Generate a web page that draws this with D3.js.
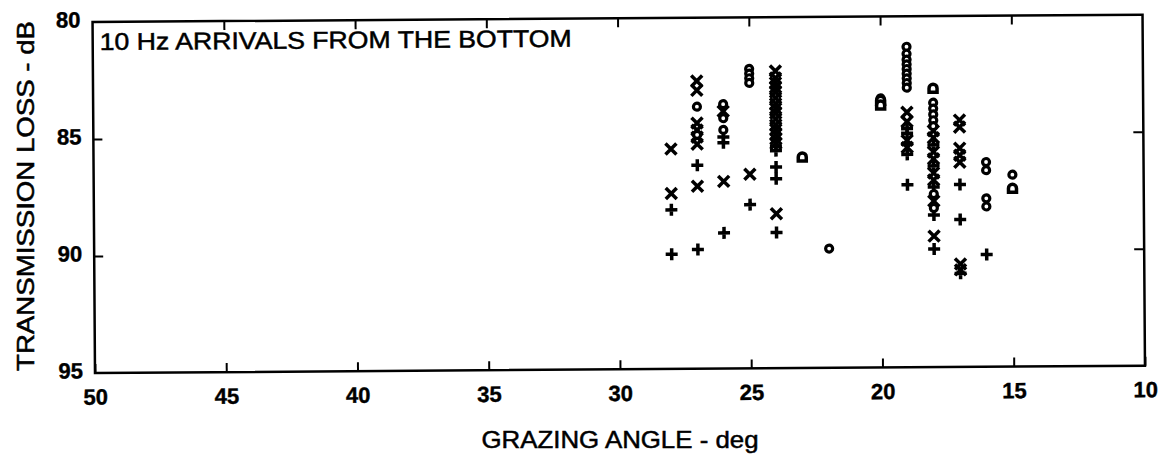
<!DOCTYPE html>
<html>
<head>
<meta charset="utf-8">
<script src="https://cdn.jsdelivr.net/npm/d3@7"></script>
<style>
  body { margin: 0; background: #fff; }
  text { font-family: "Liberation Sans", Arial, Helvetica, sans-serif; fill: #000; }
</style>
</head>
<body>
<svg id="chart" width="1161" height="458"></svg>
<script>
// Axis ticks
const xTicks = [50, 45, 40, 35, 30, 25, 20, 15, 10];
const yTicks = [80, 85, 90, 95];

// Arrivals, grouped by plotting symbol: grazing angle (deg) and transmission loss (dB)
const crossAngle = [28, 28, 27, 27, 27, 27, 27, 27, 27, 26, 26, 25,
  24, 24, 24, 24, 24, 24, 24, 24, 24, 24, 24, 24, 24, 24, 24, 24,
  19, 19, 19, 19, 18, 18, 18, 18, 18, 18, 18, 18, 17, 17, 17, 17, 17, 17, 17];
const crossLoss = [85.6, 87.5, 82.7, 83.1, 84.5, 84.8, 85.1, 85.4, 87.2, 84.0, 87.0, 86.7,
  82.3, 82.6, 82.8, 83.0, 83.2, 83.45, 83.7, 83.9, 84.1, 84.35, 84.6, 84.8, 85.0, 85.2, 85.4, 88.4,
  84.1, 84.5, 85.3, 85.6, 84.9, 85.2, 85.8, 86.1, 86.7, 87.0, 87.9, 89.4,
  84.45, 84.75, 85.65, 85.95, 86.25, 90.6, 90.85];

const plusAngle = [28, 28, 27, 27, 26, 26, 26, 25, 24, 24, 24, 24, 24,
  19, 19, 19, 19, 19, 18, 18, 18, 18, 18, 17, 17, 17, 16];
const plusLoss = [88.2, 90.1, 86.3, 89.9, 85.1, 85.35, 89.2, 88.0, 85.5, 85.7, 86.4, 86.9, 89.2,
  84.8, 85.0, 85.45, 85.9, 87.2, 85.5, 86.4, 87.3, 88.5, 89.95, 87.2, 88.7, 91.0, 90.2];

const circleAngle = [27, 27, 26, 26, 26, 25, 25, 25, 25, 22, 20,
  19, 19, 19, 19, 19, 19, 19, 19, 19, 18, 18, 18, 18, 18, 18, 18, 16, 16, 16, 16, 15];
const circleLoss = [83.8, 85.0, 83.7, 84.3, 84.8, 82.2, 82.4, 82.6, 82.8, 89.9, 83.5,
  81.3, 81.6, 81.85, 82.05, 82.25, 82.45, 82.65, 82.85, 83.05, 83.7, 83.95, 84.2, 84.45, 84.7, 87.6, 88.2,
  86.25, 86.6, 87.8, 88.15, 86.8];

const domeAngle = [23, 20, 20, 18, 15];
const domeLoss = [86.0, 83.6, 83.8, 83.1, 87.4];

const svg = d3.select("#chart");
const frameLeft = 95, frameRight = 1145, frameTop = 22, frameBottom = 373;

const x = d3.scaleLinear().domain([50, 10]).range([frameLeft, frameRight]);
const y = d3.scaleLinear().domain([80, 95]).range([frameTop, frameBottom]);

// The whole plot frame sits at a slight angle
const plot = svg.append("g").attr("transform", `rotate(-0.4, ${frameLeft}, ${frameBottom})`);

// Frame
plot.append("rect")
  .attr("x", frameLeft).attr("y", frameTop)
  .attr("width", frameRight - frameLeft).attr("height", frameBottom - frameTop)
  .attr("fill", "none").attr("stroke", "#000").attr("stroke-width", 2.5);

// Inward ticks on all four sides
const tickStyle = g => {
  g.select(".domain").remove();
  g.selectAll(".tick line").attr("stroke", "#000").attr("stroke-width", 2);
};
const labelStyle = sel => sel
  .attr("font-size", 22).attr("font-weight", "bold")
  .attr("stroke", "#000").attr("stroke-width", 0.4)
  .style("font-family", "'Liberation Sans', Arial, sans-serif").attr("fill", "#000");

plot.append("g")
  .attr("transform", `translate(0,${frameBottom})`)
  .call(d3.axisBottom(x).tickValues(xTicks).tickSizeInner(-9).tickSizeOuter(0).tickPadding(16))
  .call(tickStyle)
  .call(g => g.selectAll(".tick text").call(labelStyle));

plot.append("g")
  .attr("transform", `translate(0,${frameTop})`)
  .call(d3.axisTop(x).tickValues(xTicks.slice(1, -1)).tickSizeInner(-9).tickSizeOuter(0).tickFormat(""))
  .call(tickStyle);

plot.append("g")
  .attr("transform", `translate(${frameLeft},0)`)
  .call(d3.axisLeft(y).tickValues(yTicks).tickSizeInner(-9).tickSizeOuter(0).tickPadding(12))
  .call(tickStyle)
  .call(g => g.selectAll(".tick text").call(labelStyle).attr("dy", "0.22em"))
  .call(g => g.selectAll(".tick").filter(d => d === 80 || d === 95).select("line").remove());

plot.append("g")
  .attr("transform", `translate(${frameRight},0)`)
  .call(d3.axisRight(y).tickValues([85, 90]).tickSizeInner(-10).tickSizeOuter(0).tickFormat(""))
  .call(tickStyle);

// Symbols
const symbolPaths = {
  cross: "M-5.5,-5.5L5.5,5.5M-5.5,5.5L5.5,-5.5",
  plus: "M-6,0H6M0,-6V6",
  dome: "M-4,3.5V-0.5A4,4 0 0 1 4,-0.5V3.5Z"
};

function drawPaths(angles, losses, shape) {
  plot.append("g").selectAll("path")
    .data(d3.zip(angles, losses))
    .join("path")
    .attr("transform", d => `translate(${x(d[0])},${y(d[1])})`)
    .attr("d", symbolPaths[shape])
    .attr("fill", shape === "dome" ? "#fff" : "none")
    .attr("stroke", "#000")
    .attr("stroke-width", 3.5)
    .attr("stroke-linecap", "butt");
}

drawPaths(crossAngle, crossLoss, "cross");
drawPaths(plusAngle, plusLoss, "plus");

plot.append("g").selectAll("circle")
  .data(d3.zip(circleAngle, circleLoss))
  .join("circle")
  .attr("cx", d => x(d[0]))
  .attr("cy", d => y(d[1]))
  .attr("r", 3.5)
  .attr("fill", "#fff")
  .attr("stroke", "#000")
  .attr("stroke-width", 3.2);

drawPaths(domeAngle, domeLoss, "dome");

// Titles
plot.append("text")
  .attr("x", 102).attr("y", 50)
  .attr("font-size", 24)
  .attr("stroke", "#000").attr("stroke-width", 0.5)
  .attr("textLength", 472).attr("lengthAdjust", "spacingAndGlyphs")
  .text("10 Hz ARRIVALS FROM THE BOTTOM");

svg.append("text")
  .attr("x", 620).attr("y", 448)
  .attr("text-anchor", "middle")
  .attr("font-size", 24)
  .attr("stroke", "#000").attr("stroke-width", 0.5)
  .attr("textLength", 277).attr("lengthAdjust", "spacingAndGlyphs")
  .text("GRAZING ANGLE - deg");

svg.append("text")
  .attr("transform", "translate(34,196) rotate(-90)")
  .attr("text-anchor", "middle")
  .attr("font-size", 24)
  .attr("stroke", "#000").attr("stroke-width", 0.5)
  .attr("textLength", 350).attr("lengthAdjust", "spacingAndGlyphs")
  .text("TRANSMISSION LOSS - dB");
</script>
</body>
</html>
